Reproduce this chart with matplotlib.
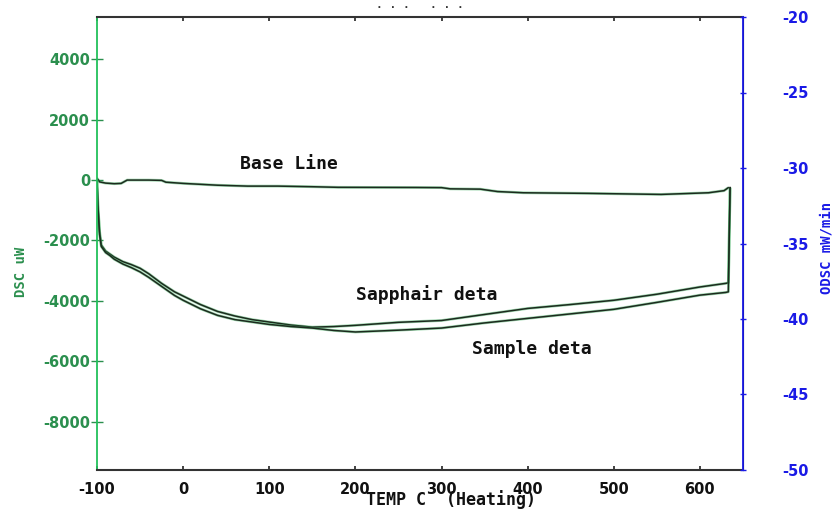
import matplotlib
matplotlib.use("Agg")
import matplotlib.pyplot as plt

# ---- data ----
temp_curves = [-100, -99, -97, -95, -90, -85, -80, -70, -60, -50, -40, -25, -10, 0,
               20, 40, 60, 80, 100, 125, 150, 175, 200, 250, 300, 350, 400, 450,
               500, 550, 600, 630, 633, 635]
sapphire = [0, -800, -1700, -2150, -2350, -2450, -2550, -2700, -2800, -2920, -3100,
            -3420, -3700, -3840, -4120, -4350, -4500, -4620, -4700, -4800, -4870,
            -4850, -4810, -4710, -4650, -4450, -4250, -4120, -3980, -3780, -3540,
            -3420, -3400, -250]
sample = [0, -850, -1800, -2200, -2400, -2500, -2620, -2780, -2900, -3040, -3220,
          -3520, -3820, -3980, -4260, -4480, -4620, -4700, -4780, -4850, -4900,
          -4980, -5030, -4970, -4900, -4730, -4580, -4430, -4280, -4050, -3810,
          -3720, -3700, -250]
temp_base = [-100, -97, -90, -80, -72, -65, -40, -25, -20, 0, 40, 75, 110, 150, 180,
             270, 300, 310, 345, 365, 395, 470, 555, 610, 628, 633]
baseline = [60, -60, -100, -120, -110, 0, 0, -10, -70, -110, -170, -200, -200, -220,
            -240, -245, -250, -290, -300, -380, -420, -440, -475, -420, -350, -250]

x_ticks = [-100, 0, 100, 200, 300, 400, 500, 600]
left_ticks = [-8000, -6000, -4000, -2000, 0, 2000, 4000]
right_ticks = [-50, -45, -40, -35, -30, -25, -20]

green_lbl = '#2b8f4e'
green_spine = '#22c05a'
blue = '#1a1ae6'
line_col = '#1c2a1e'

fig = plt.figure(figsize=(8.35, 5.09), dpi=100)
ax = fig.add_axes([97/835, 39/509, (743-97)/835, (470-17)/509])
ax2 = ax.twinx()

for xs, ys in [(temp_base, baseline), (temp_curves, sapphire), (temp_curves, sample)]:
    ax.plot(xs, ys, color='#3fae5f', lw=2.0, alpha=0.5, solid_capstyle='butt')
    ax.plot(xs, ys, color=line_col, lw=1.1)

ax.set_xlim(-100, 650)
ax.set_ylim(-9600, 5400)
ax2.set_ylim(-50, -20)

ax.set_xticks(x_ticks)
ax.set_yticks(left_ticks)
ax2.set_yticks(right_ticks)

tick_font = dict(family='DejaVu Sans', weight='bold', size=10.5)
ax.set_xticklabels([str(v) for v in x_ticks], **tick_font, color='#111111')
ax.set_yticklabels([str(v) for v in left_ticks], **tick_font, color=green_lbl)
ax2.set_yticklabels([str(v) for v in right_ticks], **tick_font, color=blue)

ax.tick_params(axis='x', direction='in', length=3, width=1.2, pad=9, top=True, color='#222222')
ax.tick_params(axis='y', direction='inout', length=8, width=1.0, pad=1, color=green_lbl)
ax2.tick_params(axis='y', direction='inout', length=5, width=1.0, pad=26, color=blue)

ax.spines['left'].set_color(green_spine)
ax.spines['left'].set_linewidth(1.3)
ax.spines['top'].set_color('#333333')
ax.spines['bottom'].set_color('#333333')
ax.spines['top'].set_linewidth(1.5)
ax.spines['bottom'].set_linewidth(1.5)
ax2.spines['right'].set_color(blue)
ax2.spines['right'].set_linewidth(1.3)
ax2.spines['left'].set_visible(False)
ax2.spines['top'].set_visible(False)
ax2.spines['bottom'].set_visible(False)

lab_font = dict(family='DejaVu Sans Mono', weight='bold', size=13)
ax.text(66, 530, 'Base Line', ha='left', va='center', color='#111111', **lab_font)
ax.text(201, -3780, 'Sapphair deta', ha='left', va='center', color='#111111', **lab_font)
ax.text(335, -5605, 'Sample deta', ha='left', va='center', color='#111111', **lab_font)

fig.text(451/835, (509-500)/509, 'TEMP C  (Heating)', ha='center', va='center',
         color='#111111', family='DejaVu Sans Mono', weight='bold', size=12)
fig.text(21/835, 1 - 272/509, 'DSC uW', rotation=90, ha='center', va='center',
         color=green_lbl, family='DejaVu Sans Mono', weight='bold', size=10)
fig.text(826/835, 1 - 248/509, 'ODSC mW/min', rotation=90, ha='center', va='center',
         color=blue, family='DejaVu Sans Mono', weight='bold', size=10)
fig.text(420/835, 1 - 8/509, '. . .   . . .', ha='center', va='baseline',
         color='#333333', family='DejaVu Sans Mono', weight='bold', size=8)

fig.savefig('out.png', dpi=100)
